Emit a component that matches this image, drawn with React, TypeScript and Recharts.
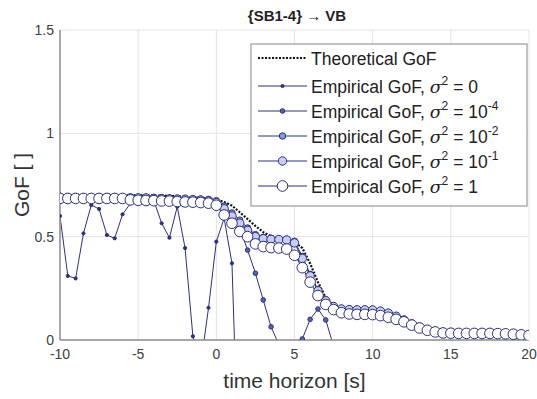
import { LineChart, Line, XAxis, YAxis, CartesianGrid, Label } from 'recharts';

// time horizon [s], step 0.5
const timeHorizon = [
  -10, -9.5, -9, -8.5, -8, -7.5, -7, -6.5, -6, -5.5, -5, -4.5, -4, -3.5, -3, -2.5, -2, -1.5, -1, -0.5,
  0, 0.5, 1, 1.5, 2, 2.5, 3, 3.5, 4, 4.5, 5, 5.5, 6, 6.5, 7, 7.5, 8, 8.5, 9, 9.5,
  10, 10.5, 11, 11.5, 12, 12.5, 13, 13.5, 14, 14.5, 15, 15.5, 16, 16.5, 17, 17.5, 18, 18.5, 19, 19.5, 20,
];

const theoreticalGoF = [
  0.7, 0.7, 0.7, 0.7, 0.7, 0.7, 0.7, 0.7, 0.7, 0.7, 0.7, 0.7, 0.7, 0.698, 0.697, 0.695, 0.693, 0.69, 0.688, 0.685,
  0.68, 0.668, 0.65, 0.618, 0.585, 0.552, 0.522, 0.502, 0.492, 0.486, 0.475, 0.445, 0.37, 0.28, 0.205, 0.165, 0.156, 0.153, 0.152, 0.151,
  0.15, 0.146, 0.138, 0.122, 0.103, 0.084, 0.068, 0.055, 0.046, 0.041, 0.039, 0.038, 0.037, 0.037, 0.036, 0.036, 0.035, 0.034, 0.031, 0.028, 0.026,
];

// sigma^2 = 0 (values below 0 fall outside the axes)
const empiricalS0 = [
  0.6, 0.31, 0.298, 0.516, 0.653, 0.634, 0.508, 0.492, 0.608, 0.66, 0.68, 0.685, 0.675, 0.565, 0.495, 0.645, 0.445, 0.018, -0.122, 0.156,
  0.476, 0.589, 0.371, -0.8, -0.8, -0.8, -0.8, -0.8, -0.8, -0.8, -0.8, -0.8, -0.8, -0.8, -0.8, -0.8, -0.8, -0.8, -0.8, -0.8,
  -0.8, -0.8, -0.8, -0.8, -0.8, -0.8, -0.8, -0.8, -0.8, -0.8, -0.8, -0.8, -0.8, -0.8, -0.8, -0.8, -0.8, -0.8, -0.8, -0.8, -0.8,
];

// sigma^2 = 1e-4
const empiricalS4 = [
  0.689, 0.689, 0.689, 0.689, 0.689, 0.689, 0.689, 0.689, 0.689, 0.689, 0.689, 0.689, 0.688, 0.687, 0.686, 0.685, 0.684, 0.683, 0.681, 0.678,
  0.67, 0.64, 0.6, 0.54, 0.435, 0.323, 0.194, 0.064, -0.022, -0.15, -0.16, 0.005, 0.1, 0.15, 0.097, -0.03, -0.3, -0.3, -0.3, -0.3,
  -0.3, -0.3, -0.3, -0.3, -0.3, -0.3, -0.3, -0.3, -0.3, -0.3, -0.3, -0.3, -0.3, -0.3, -0.3, -0.3, -0.3, -0.3, -0.3, -0.3, -0.3,
];

// sigma^2 = 1e-2
const empiricalS2 = [
  0.69, 0.69, 0.69, 0.69, 0.69, 0.69, 0.69, 0.69, 0.69, 0.69, 0.69, 0.69, 0.69, 0.688, 0.687, 0.686, 0.685, 0.684, 0.682, 0.68,
  0.674, 0.648, 0.615, 0.58, 0.542, 0.51, 0.497, 0.492, 0.49, 0.488, 0.478, 0.405, 0.318, 0.245, 0.195, 0.166, 0.153, 0.15, 0.149, 0.149,
  0.148, 0.143, 0.133, 0.118, 0.1, 0.081, 0.064, 0.051, 0.043, 0.038, 0.036, 0.035, 0.035, 0.034, 0.034, 0.034, 0.033, 0.032, 0.03, 0.027, 0.025,
];

// sigma^2 = 1e-1
const empiricalS1 = [
  0.688, 0.688, 0.688, 0.688, 0.688, 0.688, 0.688, 0.688, 0.688, 0.688, 0.688, 0.688, 0.685, 0.684, 0.683, 0.682, 0.681, 0.679, 0.677, 0.673,
  0.665, 0.635, 0.6, 0.565, 0.53, 0.5, 0.49, 0.487, 0.486, 0.484, 0.47, 0.395, 0.31, 0.238, 0.19, 0.162, 0.15, 0.147, 0.146, 0.146,
  0.145, 0.14, 0.13, 0.115, 0.097, 0.078, 0.062, 0.049, 0.041, 0.037, 0.035, 0.034, 0.034, 0.033, 0.033, 0.033, 0.032, 0.031, 0.029, 0.026, 0.024,
];

// sigma^2 = 1
const empiricalS1e0 = [
  0.685, 0.685, 0.685, 0.685, 0.685, 0.685, 0.685, 0.685, 0.685, 0.678, 0.676, 0.675, 0.674, 0.673, 0.672, 0.67, 0.668, 0.667, 0.665, 0.662,
  0.652, 0.605, 0.565, 0.525, 0.5, 0.465, 0.452, 0.447, 0.445, 0.44, 0.41, 0.35, 0.28, 0.215, 0.172, 0.147, 0.132, 0.126, 0.124, 0.124,
  0.123, 0.118, 0.11, 0.1, 0.088, 0.072, 0.058, 0.047, 0.039, 0.034, 0.033, 0.032, 0.032, 0.032, 0.032, 0.032, 0.031, 0.03, 0.028, 0.025, 0.022,
];

const xTicks = [-10, -5, 0, 5, 10, 15, 20];
const yTicks = [0, 0.5, 1, 1.5];

const data = timeHorizon.map((t, i) => ({
  t,
  theo: theoreticalGoF[i],
  s0: empiricalS0[i],
  s4: empiricalS4[i],
  s2: empiricalS2[i],
  s1: empiricalS1[i],
  s1e0: empiricalS1e0[i],
}));

const NAVY = '#2b3080';
const FONT = '"Liberation Sans", Arial, Helvetica, sans-serif';

const series = [
  { key: 's0', exp: '', val: '0', r: 1.6, fill: NAVY },
  { key: 's4', exp: '-4', val: '10', r: 2.3, fill: '#5560b8' },
  { key: 's2', exp: '-2', val: '10', r: 3.2, fill: '#8a93dc' },
  { key: 's1', exp: '-1', val: '10', r: 4.2, fill: '#c9cdf4' },
  { key: 's1e0', exp: '', val: '1', r: 5.3, fill: '#ffffff' },
];

function YTitle(props: any) {
  const { viewBox } = props;
  const cx = 21;
  const cy = viewBox.y + viewBox.height / 2;
  return (
    <text
      x={cx}
      y={cy}
      transform={`rotate(-90 ${cx} ${cy})`}
      textAnchor="middle"
      dominantBaseline="central"
      fontSize={21}
      fill="#333"
      fontFamily={FONT}
    >
      GoF [ ]
    </text>
  );
}

function LegendBox() {
  const left = 251;
  const top = 44;
  const baselines = [65, 93, 118, 143, 168, 193];
  return (
    <svg
      width={537}
      height={399}
      style={{ position: 'absolute', left: 0, top: 0, pointerEvents: 'none' }}
    >
      <rect x={left} y={top} width={276} height={162} fill="#fff" stroke="#9a9a9a" strokeWidth={1.2} />
      <line x1={258} x2={307} y1={baselines[0] - 7} y2={baselines[0] - 7} stroke="#111" strokeWidth={2.2} strokeDasharray="2 1.5" />
      <text x={311} y={baselines[0]} fontSize={17.5} fill="#222" fontFamily={FONT}>
        Theoretical GoF
      </text>
      {series.map((s, i) => {
        const b = baselines[i + 1];
        return (
          <g key={s.key}>
            <line x1={258} x2={307} y1={b - 7} y2={b - 7} stroke={NAVY} strokeWidth={1} />
            <circle cx={282.5} cy={b - 7} r={s.r} fill={s.fill} stroke={NAVY} strokeWidth={1} />
            <text x={311} y={b} fontSize={17.5} fill="#222" fontFamily={FONT}>
              {'Empirical GoF, '}
              <tspan fontFamily='"DejaVu Serif", serif' fontStyle="italic">σ</tspan>
              <tspan dy={-8} fontSize={12}>2</tspan>
              <tspan dy={8}>{' = ' + s.val}</tspan>
              {s.exp ? (
                <tspan dy={-8} fontSize={12}>
                  {s.exp}
                </tspan>
              ) : null}
            </text>
          </g>
        );
      })}
    </svg>
  );
}

export default function App() {
  return (
    <div style={{ position: 'absolute', left: 0, top: 0, width: 537, height: 399, background: '#fff' }}>
      <div
        style={{
          position: 'absolute',
          left: 60,
          width: 474,
          top: 7,
          textAlign: 'center',
          fontFamily: FONT,
          fontWeight: 'bold',
          fontSize: 15,
          color: '#222',
        }}
      >
        {'{SB1-4} \u2192 VB'}
      </div>
      <LineChart width={537} height={399} data={data} margin={{ top: 30, right: 8, bottom: 0, left: 0 }}>
        <CartesianGrid stroke="#e4e4e4" strokeWidth={1} />
        <XAxis
          dataKey="t"
          type="number"
          domain={[-10, 20]}
          ticks={xTicks}
          allowDataOverflow
          height={59}
          tickSize={0}
          tickMargin={9}
          tickLine={false}
          stroke="#8e8e8e"
          strokeWidth={1.5}
          tick={{ fontSize: 14, fill: '#404040', fontFamily: FONT }}
        >
          <Label value="time horizon [s]" position="insideBottom" offset={11} fontSize={21} fill="#333" fontFamily={FONT} />
        </XAxis>
        <YAxis
          type="number"
          domain={[0, 1.5]}
          ticks={yTicks}
          allowDataOverflow
          width={60}
          tickSize={0}
          tickMargin={6}
          tickLine={false}
          stroke="#8e8e8e"
          strokeWidth={1.5}
          tick={{ fontSize: 14, fill: '#404040', fontFamily: FONT }}
        >
          <Label content={<YTitle />} />
        </YAxis>
        <Line
          type="linear"
          dataKey="theo"
          stroke="#111"
          strokeWidth={2.2}
          strokeDasharray="2 1.5"
          dot={false}
          activeDot={false}
          isAnimationActive={false}
        />
        {series.map((s) => (
          <Line
            key={s.key}
            type="linear"
            dataKey={s.key}
            stroke={NAVY}
            strokeWidth={1}
            dot={{ r: s.r, fill: s.fill, stroke: NAVY, strokeWidth: 1 }}
            activeDot={false}
            isAnimationActive={false}
          />
        ))}
      </LineChart>
      <LegendBox />
    </div>
  );
}
